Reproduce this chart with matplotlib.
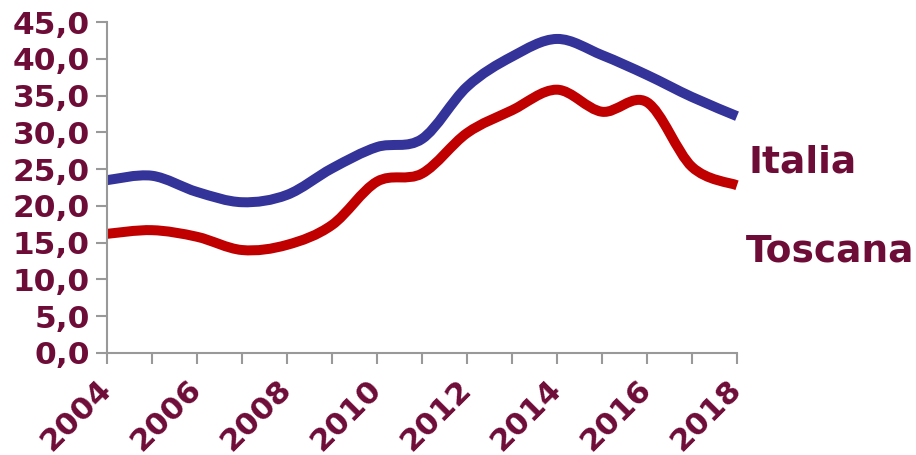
import matplotlib
matplotlib.use("Agg")
import matplotlib.pyplot as plt
import matplotlib.transforms as mtransforms
from matplotlib.path import Path
from matplotlib.patches import PathPatch

years = [2004, 2005, 2006, 2007, 2008, 2009, 2010, 2011,
         2012, 2013, 2014, 2015, 2016, 2017, 2018]
italia = [23.5, 24.1, 21.9, 20.5, 21.5, 25.1, 28.0, 29.1,
          36.2, 40.3, 42.7, 40.5, 37.8, 34.8, 32.2]
toscana = [16.2, 16.7, 15.8, 14.0, 14.7, 17.4, 23.3, 24.4,
           29.9, 33.0, 35.8, 32.8, 34.1, 25.3, 22.8]
y_ticks = [0, 5, 10, 15, 20, 25, 30, 35, 40, 45]

text_color = "#6E0C38"
axis_color = "#999999"


def smooth_path(xs, ys):
    # Bezier segments like Excel's smoothed line
    verts = [(xs[0], ys[0])]
    codes = [Path.MOVETO]
    n = len(xs)
    for i in range(n - 1):
        x0, y0 = xs[max(i - 1, 0)], ys[max(i - 1, 0)]
        x1, y1 = xs[i], ys[i]
        x2, y2 = xs[i + 1], ys[i + 1]
        x3, y3 = xs[min(i + 2, n - 1)], ys[min(i + 2, n - 1)]
        c1 = (x1 + (x2 - x0) / 6, y1 + (y2 - y0) / 6)
        c2 = (x2 - (x3 - x1) / 6, y2 - (y3 - y1) / 6)
        verts += [c1, c2, (x2, y2)]
        codes += [Path.CURVE4] * 3
    return Path(verts, codes)


fig = plt.figure(figsize=(9.16, 4.55), dpi=100)
ax = fig.add_axes([0.1168, 0.2242, 0.6878, 0.7274])

for vals, color in [(italia, "#333399"), (toscana, "#C00000")]:
    ax.add_patch(PathPatch(smooth_path(years, vals), facecolor="none",
                           edgecolor=color, lw=7.2, capstyle="butt",
                           joinstyle="round", clip_on=False))

ax.set_xlim(2004, 2018)
ax.set_ylim(0, 45)
ax.set_xticks(years)
ax.set_xticklabels([str(y) if y % 2 == 0 else "" for y in years],
                   rotation=45, ha="right", va="top", rotation_mode="anchor")
ax.set_yticks(y_ticks)
ax.set_yticklabels([f"{v:.1f}".replace(".", ",") for v in y_ticks])

for side in ["top", "right"]:
    ax.spines[side].set_visible(False)
for side in ["left", "bottom"]:
    ax.spines[side].set_color(axis_color)
    ax.spines[side].set_linewidth(1.5)

ax.tick_params(axis="both", length=8, width=1.5, color=axis_color,
               labelcolor=text_color, labelsize=22.5)
ax.tick_params(axis="y", pad=4.5)
ax.tick_params(axis="x", pad=7.6)

# nudge the rotated year labels a little to the left
shift = mtransforms.ScaledTranslation(-0.10, 0, fig.dpi_scale_trans)
for lbl in ax.get_xticklabels():
    lbl.set_transform(lbl.get_transform() + shift)
for lbl in ax.get_xticklabels() + ax.get_yticklabels():
    lbl.set_fontweight("bold")

fig.text(748 / 916, 1 - 172.7 / 455, "Italia", color=text_color,
         fontsize=27, fontweight="bold", ha="left", va="baseline")
fig.text(746 / 916, 1 - 261.7 / 455, "Toscana", color=text_color,
         fontsize=27, fontweight="bold", ha="left", va="baseline")

fig.savefig("out.png", dpi=100)
